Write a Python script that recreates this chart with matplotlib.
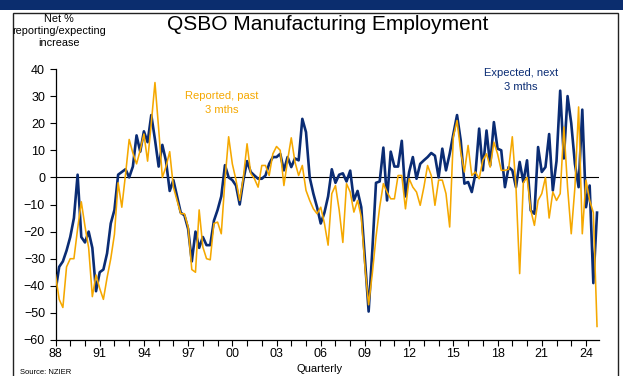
import numpy as np
import matplotlib
matplotlib.use('Agg')
import matplotlib.pyplot as plt
from matplotlib.patches import Rectangle
from matplotlib.ticker import MultipleLocator, FixedLocator

plt.rcParams['font.family'] = ['Liberation Sans', 'DejaVu Sans']

# quarterly, 1988 Q1 .. 2024 Q4 (four values per row = one year)
expected = [
    -42, -33, -31, -27,    # 88
    -22, -15, 1, -22,      # 89
    -24, -20, -26, -42,    # 90
    -35, -34, -28, -17,    # 91
    -12, 1, 2, 3,          # 92
    0, 4, 15.5, 9.5,       # 93
    17, 13, 23, 14,        # 94
    4, 12, 6, -5,          # 95
    -1, -7, -13, -14,      # 96
    -19, -31, -20, -26,    # 97
    -22, -25, -25, -16,    # 98
    -12, -7, 4.5, 0,       # 99
    -1, -3, -10, -1,       # 00
    6, 2, 0.7, -0.5,       # 01
    -0.5, 0.7, 5, 7.5,     # 02
    7.5, 8.7, 2.6, 7.5,    # 03
    3.8, 7, 6.3, 21.6,     # 04
    16.7, 0, -6, -11,      # 05
    -17, -13, -7, 3,       # 06
    -2, 1, 1.5, -1.5,      # 07
    2.5, -8.5, -5, -11,    # 08
    -30, -49.5, -27, -2,   # 09
    -1.5, 11, -8.5, 9.5,   # 10
    4, 4, 13.5, -7,        # 11
    2, 7.5, -0.5, 5,       # 12
    6.3, 7.5, 9, 8,        # 13
    0, 10.6, 2.6, 8.7,     # 14
    16, 23, 13.6, -2.3,    # 15
    -1.7, -5.4, 1.4, 18,   # 16
    2.6, 17.3, 4.4, 20.4,  # 17
    10.6, 10, -3.6, 3.8,   # 18
    2.6, -3.6, 5.7, -1.7,  # 19
    6.3, -12.2, -13.4, 11.2,  # 20
    2, 3.8, 16, -4.8,      # 21
    6, 32, 7, 30,          # 22
    20, 5, -3.6, 25,       # 23
    -11, -3, -39, -13,     # 24
]

reported = [
    -36, -45, -48, -33,       # 88
    -30, -30, -19, -9,        # 89
    -18, -26, -44, -36,       # 90
    -41, -45, -37, -30,       # 91
    -21, -2, -11, 1,          # 92
    14, 9, 5, 10,             # 93
    16, 6, 20, 35,            # 94
    18, 0, 4, 9.5,            # 95
    -3.6, -8.5, -13.4, -13.4, # 96
    -18.3, -34, -35, -12,     # 97
    -25.7, -30, -30.4, -17,   # 98
    -16.5, -20.8, -1, 15,     # 99
    5, -1, -8.5, 0,           # 00
    12.4, 1.4, -0.5, -3.6,    # 01
    4.4, 4.4, 0.7, 8.7,       # 02
    11.4, 10, -3, 6.3,        # 03
    14.6, 5.7, 0.7, 4.4,      # 04
    -4.8, -8.5, -11.6, -13.4, # 05
    -11, -17, -25, -6,        # 06
    -3, -12, -24, -2.3,       # 07
    -5.4, -12.8, -8.5, -14.6, # 08
    -33, -47, -35.5, -22,     # 09
    -11, -2.3, -5.4, -7.9,    # 10
    -7.9, 0.7, 0.7, -11.6,    # 11
    -0.5, -3.6, -5.4, -10.3,  # 12
    -3.6, 4.4, 0.7, -10.3,    # 13
    -1, -1, -6, -18.3,        # 14
    15, 21, 9.4, 2,           # 15
    11.8, 0.7, 2, -0.5,       # 16
    6.3, 8.7, 3.8, 13,        # 17
    8.7, 2.6, 2.6, 3,         # 18
    15, -3.6, -35.5, -2,      # 19
    0, -12, -17.7, -8.5,      # 20
    -6, 0, -15, -5.4,         # 21
    -8.5, -6, 18.6, -3.6,     # 22
    -20.8, -3.6, 26, -20.8,   # 23
    -1, -8.5, -13, -55,       # 24
]

tick_years = list(range(1988, 2025, 3))
tick_labels = [str(y)[2:] for y in tick_years]

quarters = 1988 + np.arange(len(expected)) / 4

W, H = 623, 376
fig = plt.figure(figsize=(W / 100, H / 100), dpi=100)

def fx(px):
    return px / W

def fy(py):
    return 1 - py / H

# header band and frame
fig.patches.append(Rectangle((0, fy(10)), 1, 10 / H, transform=fig.transFigure,
                             facecolor='#0b2d6e', edgecolor='none', zorder=0))
fig.patches.append(Rectangle((fx(13), fy(380)), fx(618) - fx(13), fy(13) - fy(380),
                             transform=fig.transFigure, facecolor='none',
                             edgecolor='#222222', linewidth=1.0, zorder=1))

ax = fig.add_axes([fx(55.5), fy(340), fx(598.5) - fx(55.5), fy(69) - fy(340)])
ax.plot(quarters, reported, color='#f5a800', lw=1.15, zorder=3)
ax.plot(quarters, expected, color='#0a2c74', lw=1.9, zorder=2)
ax.axhline(0, color='black', lw=0.8, zorder=1)

ax.set_xlim(1988, 2024.85)
ax.set_ylim(-60, 40)
ax.xaxis.set_major_locator(FixedLocator(tick_years))
ax.set_xticklabels(tick_labels)
ax.xaxis.set_minor_locator(MultipleLocator(1))
ax.yaxis.set_major_locator(MultipleLocator(10))
ax.tick_params(axis='both', which='both', direction='out', length=4, width=0.8,
               labelsize=9, colors='black')
ax.tick_params(axis='x', pad=2)
for s in ['top', 'right']:
    ax.spines[s].set_visible(False)
for s in ['left', 'bottom']:
    ax.spines[s].set_linewidth(0.9)

fig.text(fx(222), fy(103), 'Reported, past\n3 mths', color='#f5a800', fontsize=8,
         ha='center', va='center', linespacing=1.4)
fig.text(fx(521), fy(80), 'Expected, next\n3 mths', color='#0a2c74', fontsize=8,
         ha='center', va='center', linespacing=1.4)

fig.text(fx(328), fy(25), 'QSBO Manufacturing Employment', fontsize=15,
         ha='center', va='center')
fig.text(fx(59), fy(31), 'Net %\nreporting/expecting\nincrease', fontsize=7.8,
         ha='center', va='center', linespacing=1.3)
fig.text(fx(320), fy(369), 'Quarterly', fontsize=8, ha='center', va='center')
fig.text(fx(20), fy(373), 'Source: NZIER', fontsize=5.5, ha='left', va='center')

fig.savefig('out.png', dpi=100)
